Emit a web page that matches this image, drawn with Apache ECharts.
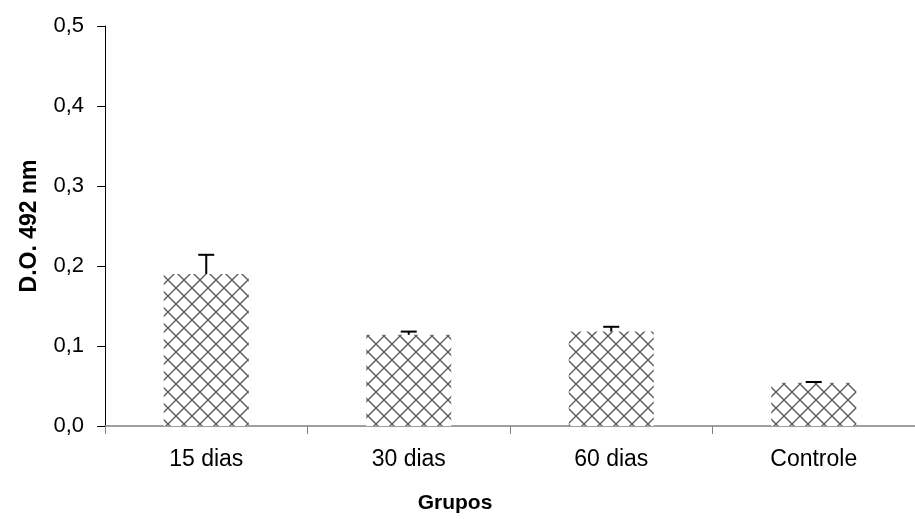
<!DOCTYPE html>
<html>
<head>
<meta charset="utf-8">
<script src="https://cdn.jsdelivr.net/npm/echarts@6/dist/echarts.min.js"></script>
<style>
html,body{margin:0;padding:0;background:#fff;}
#chart{width:915px;height:519px;}
</style>
</head>
<body>
<div id="chart"></div>
<script>
var categories = ['15 dias', '30 dias', '60 dias', 'Controle'];
var values = [0.190, 0.114, 0.118, 0.054];
var errors = [0.024, 0.004, 0.006, 0.001];
var yTicks = [0, 0.1, 0.2, 0.3, 0.4, 0.5];

function makePattern() {
  var s = 16;
  var c = document.createElement('canvas');
  c.width = s; c.height = s;
  var g = c.getContext('2d');
  g.fillStyle = '#fff';
  g.fillRect(0, 0, s, s);
  g.strokeStyle = '#5a5a5a';
  g.lineWidth = 1.4;
  g.beginPath();
  g.moveTo(-2, -2); g.lineTo(s + 2, s + 2);
  g.moveTo(s + 2, -2); g.lineTo(-2, s + 2);
  g.stroke();
  return c;
}

var chart = echarts.init(document.getElementById('chart'), null, {renderer: 'canvas'});
var font = 'Liberation Sans, Arial, sans-serif';

var errData = values.map(function (v, i) { return [i, v, v + errors[i]]; });

chart.setOption({
  animation: false,
  backgroundColor: '#fff',
  grid: {left: 105, top: 26, width: 822, height: 402, containLabel: false},
  xAxis: {
    type: 'category',
    data: categories,
    name: 'Grupos',
    nameLocation: 'middle',
    nameGap: 67,
    nameTextStyle: {fontFamily: font, fontSize: 21, fontWeight: 'bold', color: '#000', padding: [0, 110, 0, 0]},
    axisLine: {lineStyle: {color: '#808080', width: 1.5}},
    axisTick: {show: true, length: 8, lineStyle: {color: '#808080'}},
    axisLabel: {fontFamily: font, fontSize: 23, color: '#000', margin: 22}
  },
  yAxis: {
    type: 'value',
    min: 0, max: 0.5, interval: 0.1,
    name: 'D.O. 492 nm',
    nameLocation: 'middle',
    nameGap: 64,
    nameRotate: 90,
    nameTextStyle: {fontFamily: font, fontSize: 23, fontWeight: 'bold', color: '#000'},
    splitLine: {show: false},
    axisLine: {show: true, lineStyle: {color: '#000', width: 1}},
    axisTick: {show: true, length: 8, lineStyle: {color: '#000'}},
    axisLabel: {fontFamily: font, fontSize: 22, color: '#000', margin: 21,
      formatter: function (v) { return v.toFixed(1).replace('.', ','); }}
  },
  series: [
    {
      type: 'bar',
      data: values,
      barWidth: 85,
      itemStyle: {color: {image: makePattern(), repeat: 'repeat'}}
    },
    {
      type: 'custom',
      data: errData,
      z: 5,
      renderItem: function (params, api) {
        var x = api.value(0);
        var p0 = api.coord([x, api.value(1)]);
        var p1 = api.coord([x, api.value(2)]);
        var hw = 8;
        var st = {stroke: '#000', lineWidth: 2};
        return {
          type: 'group',
          children: [
            {type: 'line', shape: {x1: p0[0], y1: p0[1], x2: p1[0], y2: p1[1]}, style: st},
            {type: 'line', shape: {x1: p1[0] - hw, y1: p1[1], x2: p1[0] + hw, y2: p1[1]}, style: st}
          ]
        };
      }
    }
  ]
});
</script>
</body>
</html>
